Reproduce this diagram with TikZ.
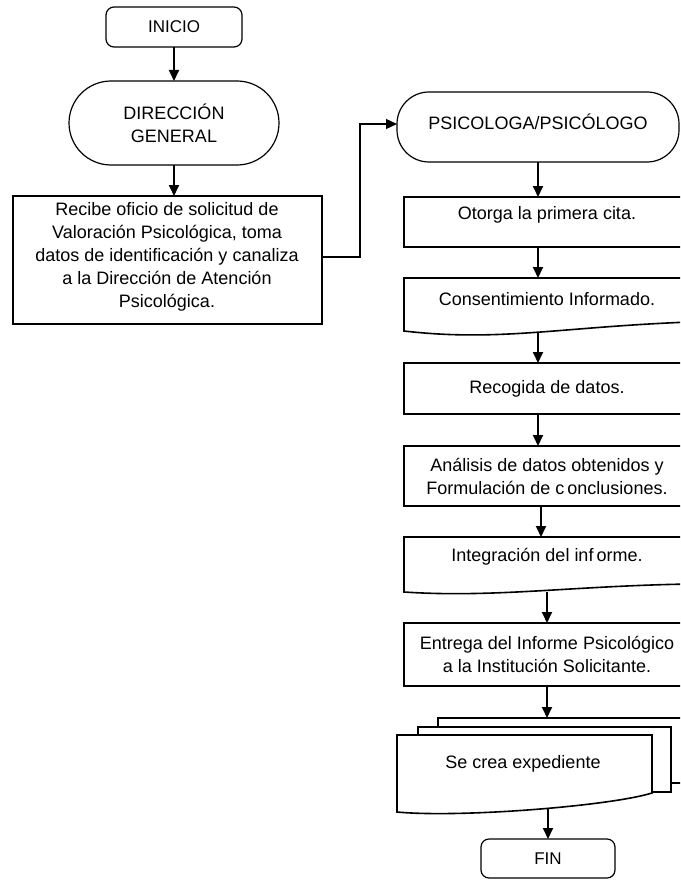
\documentclass[tikz,border=0pt]{standalone}
\usepackage{fontspec}
\setmainfont{Liberation Sans}
\usetikzlibrary{arrows.meta,calc}

\tikzset{
  boxline/.style={draw, line width=1.2pt, fill=white},
  docline/.style={draw, line width=1.6pt, fill=white},
  arr/.style={line width=1.8pt, -{Triangle[length=11pt,width=10pt]}},
  link/.style={line width=1.2pt, -{Triangle[length=11pt,width=10pt]}},
  txt/.style={font=\fontsize{18}{23}\selectfont, align=center, inner sep=0pt},
  termtxt/.style={font=\fontsize{17}{22}\selectfont, align=center},
  frame/.style={inner sep=0pt, outer sep=0pt},
}

\begin{document}
\begin{tikzpicture}[x=1pt, y=-1pt]
\clip (0,0) rectangle (680,880);

% left column
\node[boxline, frame, rounded corners=8pt, minimum width=136pt, minimum height=40pt, termtxt]
  (inicio) at (174,27) {INICIO};
\node[boxline, frame, rounded corners=42pt, minimum width=210pt, minimum height=84pt, txt]
  (direccion) at (174,123) {DIRECCIÓN\\GENERAL};
\node[boxline, frame, minimum width=309pt, minimum height=128pt] (recibe) at (167.5,260) {};
\node[txt] (recibetxt) at (167,257) {Recibe oficio de solicitud de\\Valoración Psicológica, toma\\datos de identificación y canaliza\\a la Dirección de Atención\\Psicológica.};

% right column
\node[boxline, frame, rounded corners=32pt, minimum width=282pt, minimum height=70pt] (psi) at (538,127) {};
\node[txt] (psitxt) at (538,122) {PSICOLOGA/PSICÓLOGO};

\node[boxline, frame, minimum width=286pt, minimum height=50pt] (otorga) at (547,222) {};
\node[txt] (otorgatxt) at (547,215) {Otorga la primera cita.};

% document shape: the node spans from the top edge to the wave at its centre
\node[frame, minimum width=286pt, minimum height=55pt] (consent) at (547,305.5) {};
\draw[docline] ([yshift=2pt]consent.south west) -- (consent.north west) -- (consent.north east)
  -- ([yshift=11pt]consent.south east) .. controls +(-130,5) and +(95,11) .. ([yshift=2pt]consent.south west) -- cycle;
\node[txt] (consenttxt) at (547,299) {Consentimiento Informado.};

\node[boxline, frame, minimum width=286pt, minimum height=51pt, txt] (recogida) at (547,388.5) {Recogida de datos.};

\node[boxline, frame, minimum width=286pt, minimum height=60pt, txt] (analisis) at (547,476) {Análisis de datos obtenidos y\\Formulación de c\,onclusiones.};

\node[frame, minimum width=286pt, minimum height=55pt] (integra) at (547,564.5) {};
\draw[docline] (integra.south west) -- (integra.north west) -- (integra.north east)
  -- ([yshift=8pt]integra.south east) .. controls +(-120,2) and +(90,6) .. (integra.south west) -- cycle;
\node[txt] (integratxt) at (547,557) {Integración del inf\,orme.};

\node[boxline, frame, minimum width=286pt, minimum height=63pt, txt] (entrega) at (547,654.5) {Entrega del Informe Psicológico\\a la Institución Solicitante.};

% stacked documents: two back sheets and the front sheet
\node[docline, frame, minimum width=262pt, minimum height=65pt] (sheetback) at (569,750.5) {};
\node[docline, frame, minimum width=253pt, minimum height=65pt] (sheetmid) at (544.5,759.5) {};
\node[frame, minimum width=255pt, minimum height=74pt] (expd) at (524.5,772) {};
\draw[docline] ([yshift=-3pt]expd.south west) -- (expd.north west) -- (expd.north east)
  -- ([yshift=16pt]expd.south east) .. controls +(-42,13) and +(63,6) .. ([yshift=-3pt]expd.south west) -- cycle;
\node[txt] (expdtxt) at (523,764) {Se crea expediente};

\node[boxline, frame, rounded corners=8pt, minimum width=134pt, minimum height=39pt, termtxt]
  (fin) at (548,858.5) {FIN};

% connectors
\draw[arr] (inicio.south) -- (direccion.north);
\draw[arr] (direccion.south) -- (direccion.south |- recibe.north);
\draw[link] ([yshift=3pt]recibe.east) -- ++(38,0) |- ([yshift=3pt]psi.west);
\draw[arr] (psi.south) -- (psi.south |- otorga.north);
\draw[arr] (otorga.south -| psi.south) -- (consent.north -| psi.south);
\draw[arr] (consent.south -| psi.south) -- (recogida.north -| psi.south);
\draw[arr] (recogida.south -| psi.south) -- (analisis.north -| psi.south);
\draw[arr] ([xshift=-6pt]analisis.south) -- ([xshift=-6pt]integra.north);
\draw[arr] (integra.south) -- (entrega.north);
\draw[arr] (entrega.south) -- (entrega.south |- sheetback.north);
\draw[arr] (expd.south -| fin.north) -- (fin.north);
\end{tikzpicture}
\end{document}
